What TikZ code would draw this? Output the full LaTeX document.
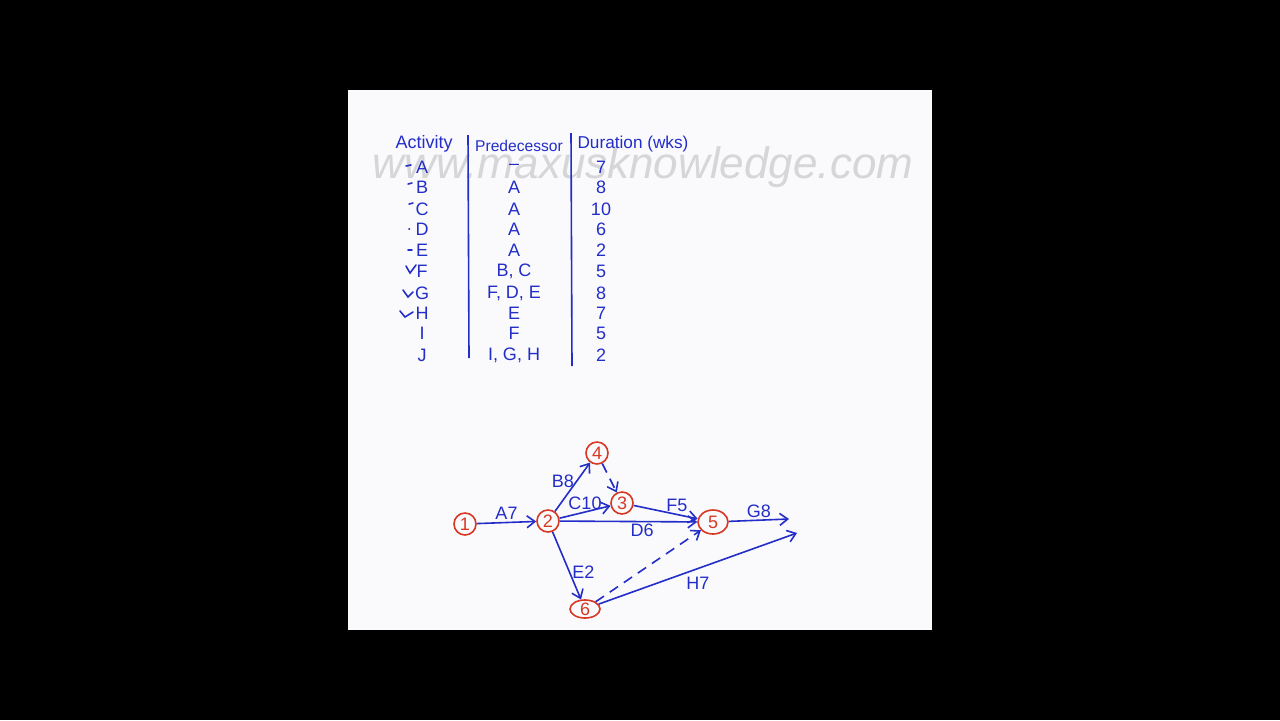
\documentclass[tikz,border=0pt]{standalone}
\usepackage{fontspec}
\setmainfont{Liberation Sans}
\usetikzlibrary{arrows.meta,shapes.geometric}
\definecolor{pen}{RGB}{35,45,200}
\definecolor{redpen}{RGB}{215,55,35}
\definecolor{paper}{RGB}{250,250,252}
\definecolor{wmark}{RGB}{214,214,216}
\begin{document}
\begin{tikzpicture}[x=0.5pt,y=-0.5pt,every node/.style={text=pen,inner sep=1pt,font=\fontsize{9}{10}\selectfont},event/.style={ellipse,draw=redpen,thick,text=redpen,inner sep=0pt,minimum width=11pt,minimum height=11pt},arrow/.style={-{Straight Barb[length=4pt,width=6pt]},draw=pen,thick},dummy/.style={arrow,dash pattern=on 5pt off 3.5pt}]
                \useasboundingbox (0,0) rectangle (1280,720);
                \fill[black] (0,0) rectangle (1280,720);
                \fill[paper] (348,90) rectangle (932,630);
                %watermark
                \node[text=wmark,font=\fontsize{22}{26}\itshape\selectfont] (wm) at (643,167) {www.maxusknowledge.com};
                %table
                \node (hAct) at (424,144) {Activity};
                \node[font=\fontsize{7.8}{9}\selectfont] (hPre) at (519,146) {Predecessor};
                \node[font=\fontsize{8.6}{10}\selectfont] (hDur) at (633,144) {Duration (wks)};
                \draw[pen,thick] (468,135)--(469,358) (571,133)--(572,366);
                \foreach \y/\mact/\mpre/\mdur in {167/A/--/7,187/B/A/8,209/C/A/10,229/D/A/6,250/E/A/2,271/F/{B, C}/5,293/G/{F, D, E}/8,313/H/E/7,333/I/F/5,355/J/{I, G, H}/2}{
                    \node (a\mact) at (422,\y) {\mact};
                    \node (p\mact) at (514,\y) {\mpre};
                    \node (d\mact) at (601,\y) {\mdur};
                }
                %ticks
                \draw[pen,thick,line cap=round] (406,166)--(411,165) (408,184)--(412,183) (409,204)--(413,203) (409,229)--(409.5,229) (408,250)--(412,250);
                \draw[pen,thick,line cap=round] (406,266)--(410,273)--(416,265) (403,290)--(408,297)--(413,292) (400,311)--(405,317)--(413,312);
                %network
                \node[event] (n1) at (465,524) {1};
                \node[event] (n2) at (548,521) {2};
                \node[event] (n4) at (597,453) {4};
                \node[event] (n3) at (622,503) {3};
                \node[event,minimum width=15pt,minimum height=12pt] (n5) at (713,522) {5};
                \node[event,minimum width=15pt,minimum height=9pt] (n6) at (585,609) {6};
                \coordinate (gEnd) at (789,519);
                \coordinate (hEnd) at (797,533);
                \draw[arrow] (n1) -- node[above] (lA) {A7} (n2);
                \draw[arrow] (n2) -- node[left,pos=.62] (lB) {B8} (n4);
                \draw[arrow] (n2) -- node[above] (lC) {C10} (n3);
                \draw[arrow] (n2) -- node[below,pos=.6] (lD) {D6} (n5);
                \draw[arrow] (n2) -- node[right,pos=.6] (lE) {E2} (n6);
                \draw[arrow] (n3) -- node[above right=-1pt] (lF) {F5} (n5);
                \draw[arrow] (n5) -- node[above] (lG) {G8} (gEnd);
                \draw[arrow] (n6) -- node[below=3pt,pos=.5] (lH) {H7} (hEnd);
                \draw[dummy] (n4) -- (n3);
                \draw[dummy] (n6) -- (n5);
            \end{tikzpicture}
\end{document}
